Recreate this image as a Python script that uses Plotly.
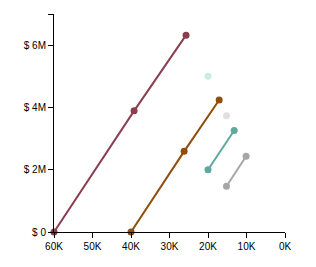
import plotly.graph_objects as go

# data (x in thousands, y in millions)
s1_x = [60, 39.2, 25.7]
s1_y = [0, 3.89, 6.32]
s2_x = [40, 26.2, 17.1]
s2_y = [0, 2.59, 4.24]
s3_x = [20, 13.2]
s3_y = [2.0, 3.26]
s3b_x = [20]
s3b_y = [5.0]
s4_x = [15.2, 10.1]
s4_y = [1.47, 2.43]
s4b_x = [15.2]
s4b_y = [3.73]

x_ticks = [60, 50, 40, 30, 20, 10, 0]
x_labels = ["60K", "50K", "40K", "30K", "20K", "10K", "0K"]
y_ticks = [0, 2, 4, 6, 7]
y_labels = ["$ 0", "$ 2M", "$ 4M", "$ 6M", ""]

fig = go.Figure()

def add(x, y, color, mode="lines+markers"):
    fig.add_trace(go.Scatter(x=x, y=y, mode=mode,
                             line=dict(color=color, width=2),
                             marker=dict(color=color, size=7),
                             showlegend=False, cliponaxis=False))

add(s1_x, s1_y, "#8B3F4E")
add(s2_x, s2_y, "#8F4E0C")
add(s3b_x, s3b_y, "#C8EDE6", "markers")
add(s4b_x, s4b_y, "#E0E0E0", "markers")
add(s3_x, s3_y, "#5FA8A0")
add(s4_x, s4_y, "#A6A6A6")

fig.update_layout(
    width=316, height=267,
    margin=dict(l=54, r=31, t=14, b=35),
    plot_bgcolor="white", paper_bgcolor="white",
    font=dict(family="Liberation Sans, Arial, sans-serif", size=10, color="black"),
)
fig.update_xaxes(range=[60, 0], tickvals=x_ticks, ticktext=x_labels,
                 showgrid=False, zeroline=False, showline=True, linecolor="black",
                 linewidth=1, ticks="outside", ticklen=5, tickcolor="black")
fig.update_yaxes(range=[0, 7], tickvals=y_ticks, ticktext=y_labels,
                 showgrid=False, zeroline=False, showline=True, linecolor="black",
                 linewidth=1, ticks="outside", ticklen=5, tickcolor="black")

fig.write_html("out.html")
